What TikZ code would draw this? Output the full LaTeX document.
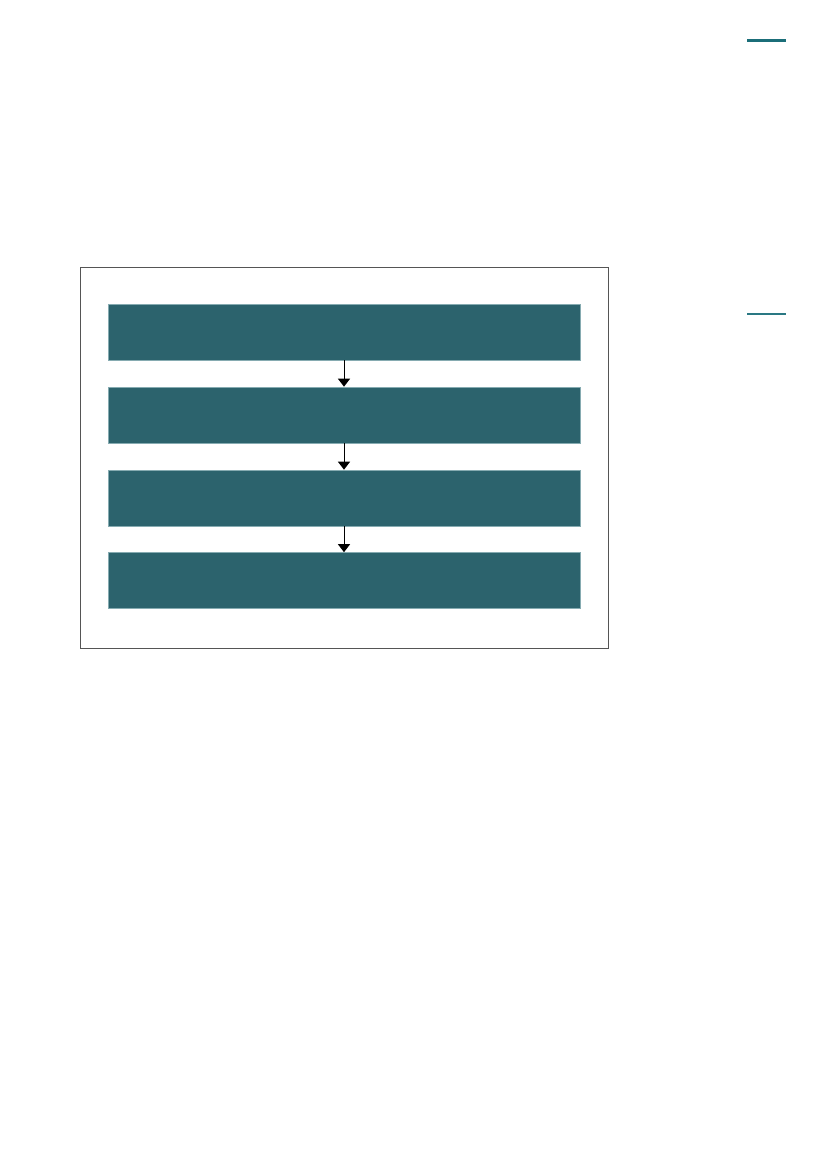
\documentclass[tikz,border=0pt]{standalone}
\usetikzlibrary{arrows.meta}
\definecolor{boxteal}{HTML}{2C636D}
\definecolor{boxedge}{HTML}{86ABB1}
\definecolor{rule1}{HTML}{1B6E79}
\definecolor{rule2}{HTML}{2A7883}
\definecolor{framegray}{HTML}{555555}
\tikzset{
  stepbox/.style={rectangle, fill=boxteal, draw=boxedge, line width=0.6pt, minimum width=472pt, minimum height=56pt, inner sep=0pt},
  flowarrow/.style={draw=black, line width=1pt, -{Triangle[width=12pt,length=8pt]}},
  framebox/.style={draw=framegray, line width=1.1pt},
}
\begin{document}
\begin{tikzpicture}[x=1pt,y=-1pt]
\useasboundingbox (0,0) rectangle (827,1169);
\draw[rule1, line width=3pt] (747,41) -- (786,41);
\draw[rule2, line width=2pt] (747,314) -- (786,314);
\draw[framebox] (80.5,267.5) rectangle (608.5,648.5);
\node[stepbox] (b1) at (344,332) {};
\node[stepbox] (b2) at (344,415) {};
\node[stepbox] (b3) at (344,498) {};
\node[stepbox] (b4) at (344,580.5) {};
\draw[flowarrow] (b1.south) -- (b2.north);
\draw[flowarrow] (b2.south) -- (b3.north);
\draw[flowarrow] (b3.south) -- (b4.north);
\end{tikzpicture}
\end{document}
